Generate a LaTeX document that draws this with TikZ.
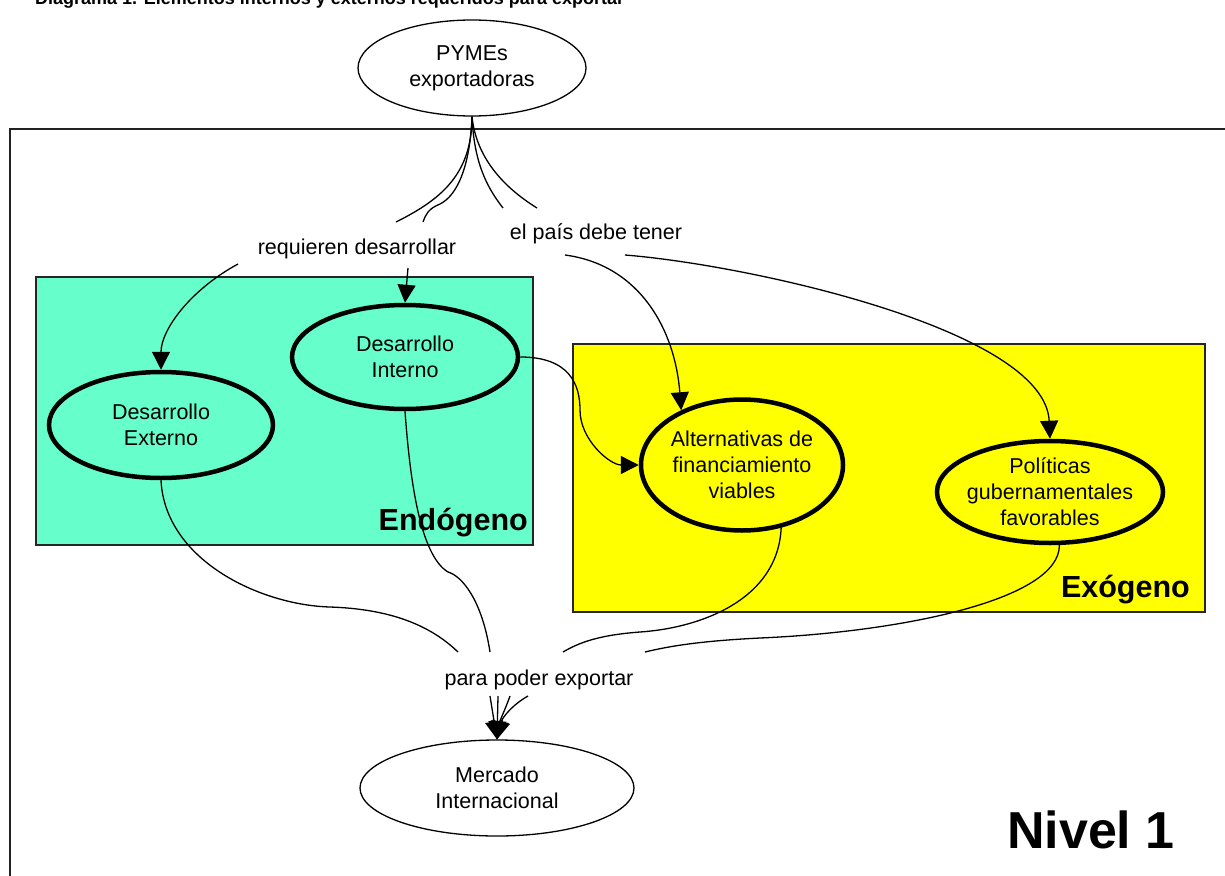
\documentclass[tikz,border=0pt]{standalone}
\usepackage{fontspec}
\setmainfont{Liberation Sans}
\usetikzlibrary{shapes.geometric,arrows.meta,calc}
\definecolor{endofill}{HTML}{66FFCC}
\definecolor{exofill}{HTML}{FFFF00}
\definecolor{framegray}{HTML}{222222}

\tikzset{
  concept/.style={ellipse, draw, fill=white, line width=1.3pt, inner sep=-12pt,
    align=center, font=\fontsize{21.5}{26}\selectfont},
  keyconcept/.style={concept, line width=4.5pt},
  linkphrase/.style={anchor=base, inner sep=0pt, font=\fontsize{21.5}{26}\selectfont},
  link/.style={line width=1.3pt},
  linkarrow/.style={link, -{Triangle[length=18pt,width=18pt]}},
  region/.style={draw=black!85, line width=1.3pt},
  regionlabel/.style={anchor=base east, inner sep=0pt, font=\bfseries\fontsize{30.5}{36}\selectfont},
}

\begin{document}
\begin{tikzpicture}[x=1pt,y=-1pt]
  \useasboundingbox (0,0) rectangle (1225,875);
  \clip (0,0) rectangle (1225,875);
  \fill[white] (0,0) rectangle (1225,875);

  % heading
  \node[anchor=base west, inner sep=0pt, font=\bfseries\fontsize{18}{22}\selectfont]
    (heading) at (35,5) {Diagrama 1. Elementos internos y externos requeridos para exportar};

  % level frame
  \draw[framegray, line width=2pt] (1240,129) -- (10,129) -- (10,890);
  \node[anchor=base east, inner sep=0pt, font=\bfseries\fontsize{52}{60}\selectfont]
    (nivel) at (1175,848) {Nivel 1};

  % regions
  \filldraw[region, fill=endofill] (36,277) rectangle (533,545);
  \filldraw[region, fill=exofill] (573,344) rectangle (1205,612);
  \node[regionlabel] (endo) at (528,530) {Endógeno};
  \node[regionlabel] (exo) at (1190,597) {Exógeno};

  % concepts
  \node[concept, minimum width=228pt, minimum height=96pt] (pymes) at (472,68) {PYMEs\\exportadoras};
  \node[concept, minimum width=274pt, minimum height=96pt] (merc) at (497,788) {Mercado\\Internacional};
  \node[keyconcept, fill=endofill, minimum width=224pt, minimum height=106pt] (ext) at (161,425) {Desarrollo\\Externo};
  \node[keyconcept, fill=endofill, minimum width=226pt, minimum height=104pt] (int) at (405,357) {Desarrollo\\Interno};
  \node[keyconcept, fill=exofill, minimum width=202pt, minimum height=131pt] (alt) at (742,465) {Alternativas de\\financiamiento\\viables};
  \node[keyconcept, fill=exofill, minimum width=226pt, minimum height=102pt] (pol) at (1050,492) {Políticas\\gubernamentales\\favorables};

  % linking phrases
  \node[linkphrase] (req) at (357,254) {requieren desarrollar};
  \node[linkphrase] (pais) at (596,239) {el país debe tener};
  \node[linkphrase] (para) at (539,685) {para poder exportar};

  % PYMEs to the linking phrases
  \draw[link] (pymes.south) .. controls (472,175) and (440,200) .. ($(req.base)+(39,-32)$);
  \draw[link] (pymes.south) .. controls (470,165) and (458,195) .. (440,204)
                            .. controls (428,209) and (426,214) .. ($(req.base)+(66,-32)$);
  \draw[link] (pymes.south) .. controls (474,160) and (485,185) .. ($(pais.base)+(-93,-31)$);
  \draw[link] (pymes.south) .. controls (476,155) and (500,185) .. ($(pais.base)+(-59,-31)$);

  % requieren desarrollar
  \draw[linkarrow] ($(req.base)+(-119,10)$) .. controls (190,290) and (161,330) .. (ext.north);
  \draw[linkarrow] ($(req.base)+(51,14)$) -- (int.north);

  % el país debe tener
  \draw[linkarrow] ($(pais.base)+(-31,16)$) .. controls (640,265) and (675,330) .. (alt.138);
  \draw[linkarrow] ($(pais.base)+(29,16)$) .. controls (750,265) and (1045,330) .. (pol.north);

  % internal development feeds financing
  \draw[linkarrow] (int.east) .. controls (570,357) and (580,385) .. (580,410)
                              .. controls (580,440) and (610,465) .. (alt.west);

  % towards para poder exportar
  \draw[link] (ext.south) .. controls (165,560) and (260,605) .. (330,607)
                          .. controls (390,609) and (430,625) .. ($(para.base)+(-81,-33)$);
  \draw[link] (int.south) .. controls (410,480) and (420,555) .. (448,572)
                          .. controls (462,576) and (482,600) .. ($(para.base)+(-49,-33)$);
  \draw[link] (alt.-58) .. controls (778,600) and (700,628) .. (640,632)
                        .. controls (600,635) and (580,642) .. ($(para.base)+(24,-33)$);
  \draw[link] (pol.-80) .. controls (1060,600) and (900,632) .. (760,638)
                        .. controls (700,641) and (670,646) .. ($(para.base)+(106,-33)$);

  % para poder exportar to the international market
  \draw[linkarrow] ($(para.base)+(-49,11)$) -- (merc.north);
  \draw[linkarrow] ($(para.base)+(-41,11)$) -- (merc.north);
  \draw[linkarrow] ($(para.base)+(-29,11)$) .. controls (505,710) and (500,720) .. (merc.north);
  \draw[linkarrow] ($(para.base)+(-11,11)$) .. controls (512,705) and (502,718) .. (merc.north);
\end{tikzpicture}
\end{document}
